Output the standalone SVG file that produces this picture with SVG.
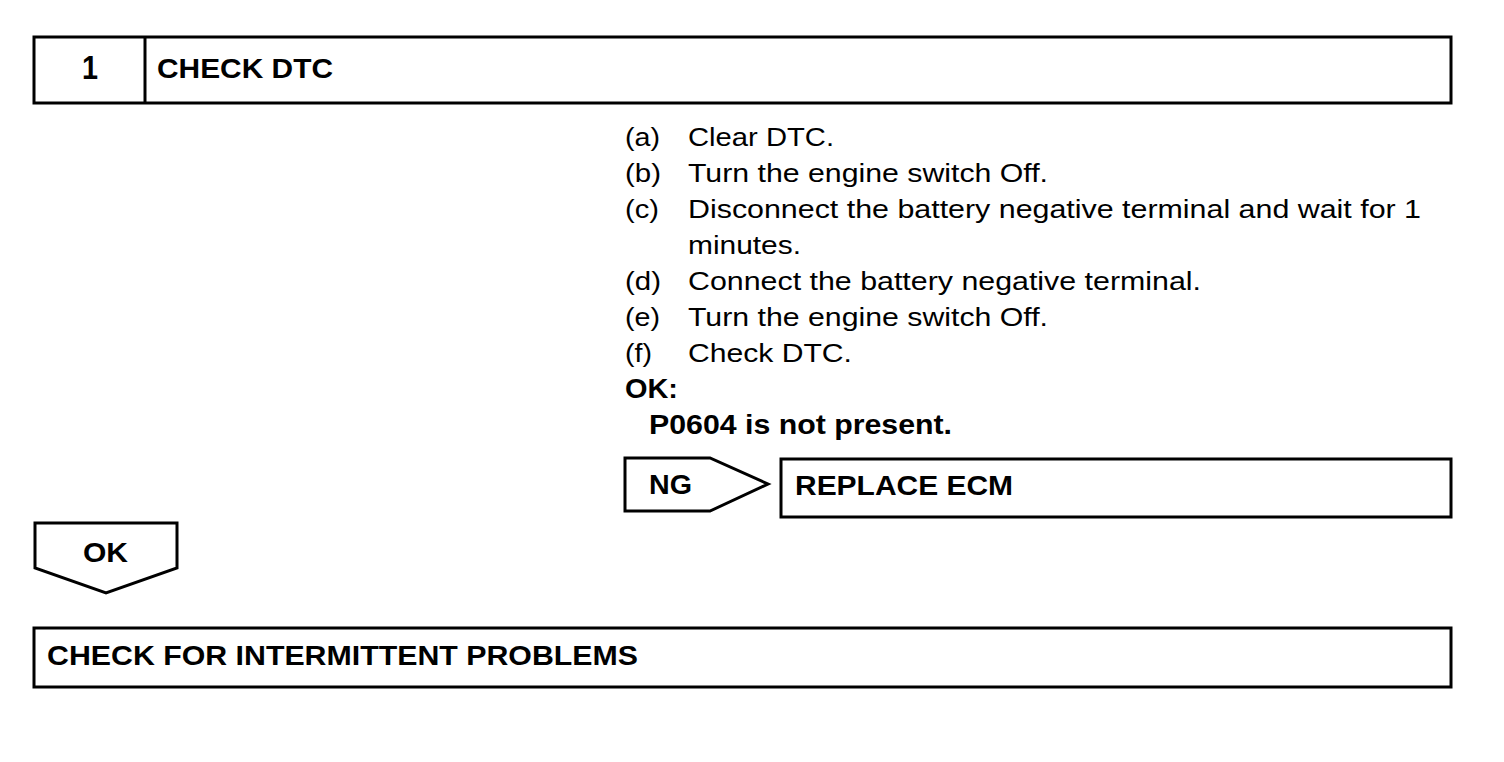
<svg xmlns="http://www.w3.org/2000/svg" width="1504" height="762" viewBox="0 0 1504 762">
<style>
.box{fill:#fff;stroke:#000;stroke-width:3}
.b{font-family:"Liberation Sans",Arial,sans-serif;font-weight:bold;font-size:27px;fill:#000}
.r{font-family:"Liberation Sans",Arial,sans-serif;font-size:25px;fill:#000}
</style>
<rect width="1504" height="762" fill="#fff"/>
<g id="step1">
<rect class="box" x="34" y="37" width="1417" height="66"/>
<line x1="145" y1="37" x2="145" y2="103" stroke="#000" stroke-width="3"/>
<text class="b" x="82" y="79" textLength="16" lengthAdjust="spacingAndGlyphs" style="font-size:33px">1</text>
<text class="b" x="157" y="78" textLength="176" lengthAdjust="spacingAndGlyphs">CHECK DTC</text>
</g>
<g id="instructions">
<text class="r" x="625" y="146" textLength="35" lengthAdjust="spacingAndGlyphs">(a)</text><text class="r" x="688" y="146" textLength="146" lengthAdjust="spacingAndGlyphs">Clear DTC.</text>
<text class="r" x="625" y="182" textLength="36" lengthAdjust="spacingAndGlyphs">(b)</text><text class="r" x="688" y="182" textLength="360" lengthAdjust="spacingAndGlyphs">Turn the engine switch Off.</text>
<text class="r" x="625" y="218" textLength="34" lengthAdjust="spacingAndGlyphs">(c)</text><text class="r" x="688" y="218" textLength="733" lengthAdjust="spacingAndGlyphs">Disconnect the battery negative terminal and wait for 1</text>
<text class="r" x="688" y="254" textLength="113" lengthAdjust="spacingAndGlyphs">minutes.</text>
<text class="r" x="625" y="290" textLength="36" lengthAdjust="spacingAndGlyphs">(d)</text><text class="r" x="688" y="290" textLength="513" lengthAdjust="spacingAndGlyphs">Connect the battery negative terminal.</text>
<text class="r" x="625" y="326" textLength="35" lengthAdjust="spacingAndGlyphs">(e)</text><text class="r" x="688" y="326" textLength="360" lengthAdjust="spacingAndGlyphs">Turn the engine switch Off.</text>
<text class="r" x="625" y="362" textLength="27" lengthAdjust="spacingAndGlyphs">(f)</text><text class="r" x="688" y="362" textLength="164" lengthAdjust="spacingAndGlyphs">Check DTC.</text>
<text class="b" x="625" y="398" textLength="53" lengthAdjust="spacingAndGlyphs">OK:</text>
<text class="b" x="649" y="434" textLength="303" lengthAdjust="spacingAndGlyphs">P0604 is not present.</text>
</g>
<g id="connectors">
<g id="ng">
<polygon class="box" points="625,458 710,458 768,484 710,511 625,511"/>
<text class="b" x="649" y="494" textLength="43" lengthAdjust="spacingAndGlyphs">NG</text>
</g>
<g id="ok">
<polygon class="box" points="35,523 177,523 177,568 106,593 35,568"/>
<text class="b" x="83" y="562" textLength="45" lengthAdjust="spacingAndGlyphs">OK</text>
</g>
</g>
<g id="replace">
<rect class="box" x="781" y="459" width="670" height="58"/>
<text class="b" x="795" y="495" textLength="218" lengthAdjust="spacingAndGlyphs">REPLACE ECM</text>
</g>
<g id="intermittent">
<rect class="box" x="34" y="628" width="1417" height="59"/>
<text class="b" x="47" y="665" textLength="591" lengthAdjust="spacingAndGlyphs">CHECK FOR INTERMITTENT PROBLEMS</text>
</g>
</svg>
